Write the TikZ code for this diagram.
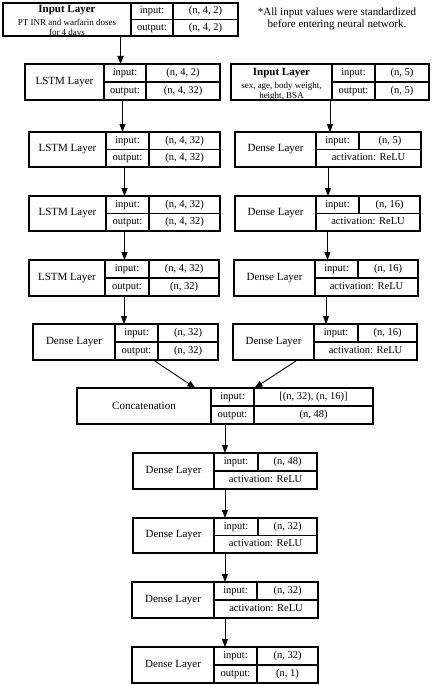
\documentclass[tikz,border=0pt]{standalone}
\usepackage{fontspec}
\setmainfont{Liberation Serif}
\usepackage{tikz}
\usetikzlibrary{positioning}
\usetikzlibrary{arrows.meta}
\usetikzlibrary{calc}

\tikzset{
	box/.style={draw, line width=1.1pt, inner sep=0pt, outer sep=0pt},
	cell/.style={box, font=\fontsize{10.5}{12}\selectfont, text height=7.5pt, text depth=2.5pt},
	lbl/.style={align=center, inner sep=0pt, font=\fontsize{11}{12}\selectfont},
	sublbl/.style={font=\fontsize{9}{10}\selectfont},
	flow/.style={-{Triangle[length=8pt,width=6pt]}, line width=0.9pt},
}

% block frame and its name cell: [text style], name, x0, x-name, x-key, x1, y0, y1, text
\newcommand{\layer}[9][]{%
	\def\lyname{#2}\def\lyxa{#3}\def\lyxb{#4}\def\lyxc{#5}\def\lyxd{#6}\def\lyya{#7}\def\lyyb{#8}%
	\node[box, minimum width={(#6-#3)*1pt}, minimum height={(#8-#7)*1pt}] (#2) at ({(#3+#6)/2},{(#7+#8)/2}) {};
	\node[box, minimum width={(#4-#3)*1pt}, minimum height={(#8-#7)*1pt}] (#2-l) at ({(#3+#4)/2},{(#7+#8)/2}) {};
	\node[lbl, #1] (#2-t) at (#2-l.center) {#9};
}
% input / output rows
\newcommand{\iorows}[2]{%
	\node[cell, minimum width={(\lyxc-\lyxb)*1pt}, minimum height={(\lyyb-\lyya)/2*1pt}] (\lyname-ik) at ({(\lyxb+\lyxc)/2},{(3*\lyya+\lyyb)/4}) {input:};
	\node[cell, minimum width={(\lyxd-\lyxc)*1pt}, minimum height={(\lyyb-\lyya)/2*1pt}] (\lyname-iv) at ({(\lyxc+\lyxd)/2},{(3*\lyya+\lyyb)/4}) {#1};
	\node[cell, minimum width={(\lyxc-\lyxb)*1pt}, minimum height={(\lyyb-\lyya)/2*1pt}] (\lyname-ok) at ({(\lyxb+\lyxc)/2},{(\lyya+3*\lyyb)/4}) {output:};
	\node[cell, minimum width={(\lyxd-\lyxc)*1pt}, minimum height={(\lyyb-\lyya)/2*1pt}] (\lyname-ov) at ({(\lyxc+\lyxd)/2},{(\lyya+3*\lyyb)/4}) {#2};
}
% input / activation rows
\newcommand{\actrows}[2]{%
	\node[cell, minimum width={(\lyxc-\lyxb)*1pt}, minimum height={(\lyyb-\lyya)/2*1pt}] (\lyname-ik) at ({(\lyxb+\lyxc)/2},{(3*\lyya+\lyyb)/4}) {input:};
	\node[cell, minimum width={(\lyxd-\lyxc)*1pt}, minimum height={(\lyyb-\lyya)/2*1pt}] (\lyname-iv) at ({(\lyxc+\lyxd)/2},{(3*\lyya+\lyyb)/4}) {#1};
	\node[cell, minimum width={(\lyxd-\lyxb)*1pt}, minimum height={(\lyyb-\lyya)/2*1pt}] (\lyname-act) at ({(\lyxb+\lyxd)/2},{(\lyya+3*\lyyb)/4}) {activation: #2};
}

\begin{document}
\begin{tikzpicture}[x=1pt, y=-1pt]
	\useasboundingbox (0,0) rectangle (432,685);

	% sequence branch
	\layer[sublbl, yshift=-1.5pt]{inA}{3}{131}{173}{238}{3}{36}{{\fontsize{11}{12}\selectfont\bfseries Input Layer}\\[3pt]PT INR and warfarin doses\\for 4 days}
	\iorows{(n, 4, 2)}{(n, 4, 2)}
	\layer{lstmA}{25}{104}{146}{220}{64}{100}{LSTM Layer}
	\iorows{(n, 4, 2)}{(n, 4, 32)}
	\layer{lstmB}{29}{106}{149}{220}{132}{167}{LSTM Layer}
	\iorows{(n, 4, 32)}{(n, 4, 32)}
	\layer{lstmC}{29}{106}{149}{220}{196}{231}{LSTM Layer}
	\iorows{(n, 4, 32)}{(n, 4, 32)}
	\layer{lstmD}{29}{105}{149}{219}{260}{296}{LSTM Layer}
	\iorows{(n, 4, 32)}{(n, 32)}
	\layer{denL}{33}{115}{158}{218}{324}{360}{Dense Layer}
	\iorows{(n, 32)}{(n, 32)}

	% patient branch
	\layer[sublbl, yshift=-2.5pt]{inB}{231}{332}{375}{429}{64}{100}{{\fontsize{11}{12}\selectfont\bfseries Input Layer}\\[3.5pt]sex, age, body weight,\\height, BSA}
	\iorows{(n, 5)}{(n, 5)}
	\layer{denA}{235}{316}{359}{421}{132}{167}{Dense Layer}
	\actrows{(n, 5)}{ReLU}
	\layer{denB}{235}{316}{359}{420}{196}{231}{Dense Layer}
	\actrows{(n, 16)}{ReLU}
	\layer{denC}{234}{315}{358}{418}{260}{296}{Dense Layer}
	\actrows{(n, 16)}{ReLU}
	\layer{denD}{233}{314}{358}{417}{324}{360}{Dense Layer}
	\actrows{(n, 16)}{ReLU}

	% merged part
	\layer{cat}{77}{211}{254}{373}{388}{424}{Concatenation}
	\iorows{[(n, 32), (n, 16)]}{(n, 48)}
	\layer{denE}{133}{214}{258}{317}{453}{489}{Dense Layer}
	\actrows{(n, 48)}{ReLU}
	\layer{denF}{133}{214}{258}{317}{518}{553}{Dense Layer}
	\actrows{(n, 32)}{ReLU}
	\layer{denG}{132}{214}{257}{318}{582}{618}{Dense Layer}
	\actrows{(n, 32)}{ReLU}
	\layer{denH}{132}{214}{257}{318}{647}{683}{Dense Layer}
	\iorows{(n, 32)}{(n, 1)}

	\node[align=center, font=\fontsize{11}{12.5}\selectfont] (note) at (337,19) {*All input values were standardized\\before entering neural network.};

	% arrows
	\draw[flow, line width=1.6pt] (inA.south) -- (inA.south |- lstmA.north);
	\draw[flow] (lstmA.south) -- (lstmA.south |- lstmB.north);
	\draw[flow] (lstmB.south) -- (lstmB.south |- lstmC.north);
	\draw[flow] (lstmC.south) -- (lstmC.south |- lstmD.north);
	\draw[flow] (lstmD.south) -- (lstmD.south |- denL.north);
	\draw[flow] (inB.south) -- (inB.south |- denA.north);
	\draw[flow] (denA.south) -- (denA.south |- denB.north);
	\draw[flow] (denB.south) -- (denB.south |- denC.north);
	\draw[flow] (denC.south) -- (denC.south |- denD.north);
	\draw[flow] ($(denL.south west)!0.65!(denL.south east)$) -- ($(cat.north west)!0.40!(cat.north east)$);
	\draw[flow] ($(denD.south west)!0.35!(denD.south east)$) -- ($(cat.north west)!0.60!(cat.north east)$);
	\draw[flow] (cat.south) -- (cat.south |- denE.north);
	\draw[flow] (denE.south) -- (denE.south |- denF.north);
	\draw[flow] (denF.south) -- (denF.south |- denG.north);
	\draw[flow] (denG.south) -- (denG.south |- denH.north);
\end{tikzpicture}
\end{document}
